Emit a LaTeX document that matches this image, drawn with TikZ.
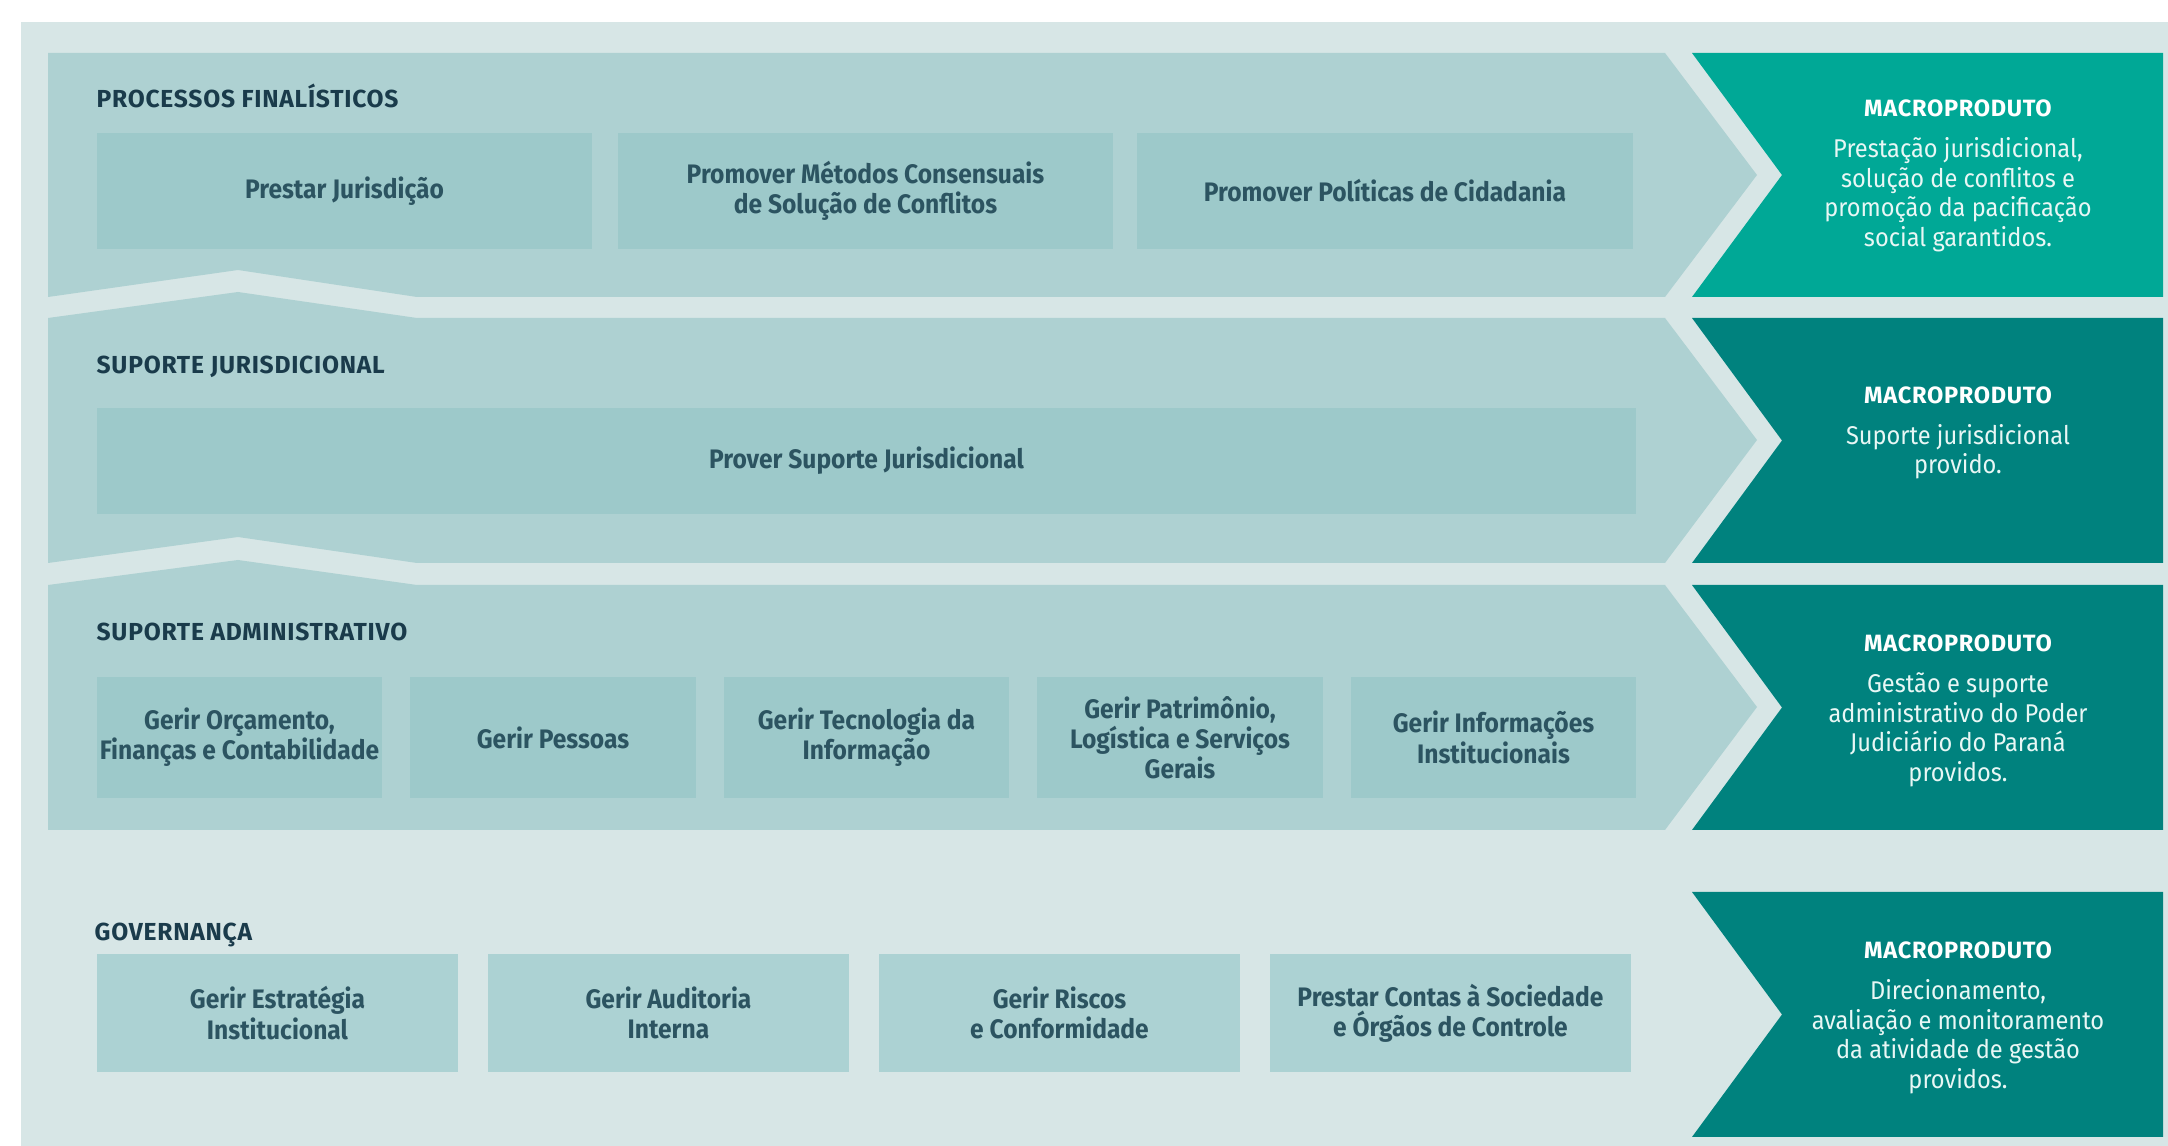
\documentclass[tikz,border=0pt]{standalone}
\usepackage{fontspec}
\setmainfont{Fira Sans}[FakeStretch=0.92]
\newfontfamily\headfont{Fira Sans}[LetterSpace=3]
\definecolor{pagebg}{HTML}{D7E6E6}
\definecolor{bandfill}{HTML}{AED1D2}
\definecolor{boxfill}{HTML}{9DC9CA}
\definecolor{govfill}{HTML}{ACD2D3}
\definecolor{macrogreen}{HTML}{00A896}
\definecolor{macroteal}{HTML}{00827E}
\definecolor{headtext}{HTML}{1A3B4B}
\definecolor{boxtext}{HTML}{2C5461}
\definecolor{macrotext}{HTML}{E8F7F5}
\tikzset{
  procbox/.style={fill=#1, inner sep=0pt, minimum height=1.16cm, align=center,
    text=boxtext, font=\fontsize{7.6}{8.6}\selectfont\bfseries},
  grouplabel/.style={anchor=base west, inner sep=0pt, text=headtext,
    font=\headfont\fontsize{7}{7.5}\selectfont\bfseries},
  macrolabel/.style={align=center, inner sep=0pt, text=macrotext,
    font=\fontsize{7.3}{8.4}\selectfont}
}
\newcommand{\macrohead}{{\headfont\bfseries\color{white}\fontsize{6.7}{7}\selectfont MACROPRODUTO}\\[3.2pt]}
\begin{document}
\begin{tikzpicture}[x=0.01cm, y=-0.01cm]
  \useasboundingbox (0,0) rectangle (2168,1146);
  \fill [pagebg] (21,22) rectangle (2168,1146);

  \fill [bandfill] (48,53) -- (1665,53) -- (1757,175) -- (1665,297) -- (417,297) -- (238,270) -- (48,297) -- cycle;
  \fill [bandfill] (48,318) -- (238,292) -- (417,318) -- (1665,318) -- (1757,440) -- (1665,563) -- (417,563) -- (238,537) -- (48,563) -- cycle;
  \fill [bandfill] (48,585) -- (238,560) -- (417,585) -- (1665,585) -- (1757,707) -- (1665,830) -- (48,830) -- cycle;

  \foreach \t/\b/\c in {53/297/macrogreen, 318/563/macroteal, 585/830/macroteal, 892/1137/macroteal}{
    \fill [\c] (1692,\t) -- (2163,\t) -- (2163,\b) -- (1692,\b) -- ({1782},{(\t+\b)/2}) -- cycle;
  }

  \node [grouplabel] (g1) at (96,108) {PROCESSOS FINALÍSTICOS};
  \node [grouplabel] (g2) at (96,374) {SUPORTE JURISDICIONAL};
  \node [grouplabel] (g3) at (96,641) {SUPORTE ADMINISTRATIVO};
  \node [grouplabel] (g4) at (94,941) {GOVERNANÇA};

  \foreach \i/\x/\txt in {1/344.5/{Prestar Jurisdição}, 2/865.5/{Promover Métodos Consensuais\\de Solução de Conflitos}, 3/1385/{Promover Políticas de Cidadania}}{
    \node [procbox=boxfill, minimum width=4.95cm] (pf\i) at (\x,191) {\txt};
  }

  \node [procbox=boxfill, minimum width=15.39cm, minimum height=1.06cm] (sj1) at (866.5,461) {Prover Suporte Jurisdicional};

  \foreach \i/\x/\txt in {1/239.5/{Gerir Orçamento,\\Finanças e Contabilidade}, 2/553/{Gerir Pessoas}, 3/866.5/{Gerir Tecnologia da\\Informação}, 4/1180/{Gerir Patrimônio,\\Logística e Serviços\\Gerais}, 5/1493.5/{Gerir Informações\\Institucionais}}{
    \node [procbox=boxfill, minimum width=2.85cm, minimum height=1.21cm] (sa\i) at (\x,737.5) {\txt};
  }

  \foreach \i/\x/\txt in {1/277.5/{Gerir Estratégia\\Institucional}, 2/668.5/{Gerir Auditoria\\Interna}, 3/1059.5/{Gerir Riscos\\e Conformidade}, 4/1450.5/{Prestar Contas à Sociedade\\e Órgãos de Controle}}{
    \node [procbox=govfill, minimum width=3.61cm, minimum height=1.18cm] (gv\i) at (\x,1013) {\txt};
  }

  \node [macrolabel] (m1) at (1958,176) {\macrohead Prestação jurisdicional,\\solução de conflitos e\\promoção da pacificação\\social garantidos.};
  \node [macrolabel] (m2) at (1958,433) {\macrohead Suporte jurisdicional\\provido.};
  \node [macrolabel] (m3) at (1958,711) {\macrohead Gestão e suporte\\administrativo do Poder\\Judiciário do Paraná\\providos.};
  \node [macrolabel] (m4) at (1958,1018) {\macrohead Direcionamento,\\avaliação e monitoramento\\da atividade de gestão\\providos.};
\end{tikzpicture}
\end{document}
